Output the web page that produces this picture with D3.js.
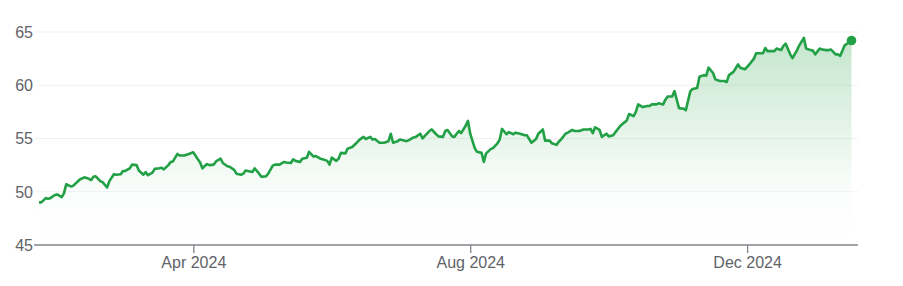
<html>
  <head>
    <script src="https://d3js.org/d3.v7.min.js"></script>
    <style>
      body {margin:0; background:white;}
      text {font-family: "Liberation Sans", Arial, sans-serif;}
    </style>
  </head>
  <body>
    <div id="chart"></div>
    <script>
      var dates = [
        "2024-01-24","2024-01-25","2024-01-27","2024-01-28","2024-01-29","2024-01-31","2024-02-01","2024-02-03","2024-02-04","2024-02-05",
        "2024-02-07","2024-02-08","2024-02-11","2024-02-13","2024-02-14","2024-02-16","2024-02-17","2024-02-18","2024-02-20","2024-02-21",
        "2024-02-23","2024-02-24","2024-02-26","2024-02-27","2024-02-29","2024-03-01","2024-03-02","2024-03-04","2024-03-05","2024-03-07",
        "2024-03-08","2024-03-10","2024-03-11","2024-03-12","2024-03-14","2024-03-15","2024-03-17","2024-03-18","2024-03-19","2024-03-21",
        "2024-03-22","2024-03-23","2024-03-25","2024-03-26","2024-03-28","2024-03-30","2024-04-01","2024-04-03","2024-04-04","2024-04-05",
        "2024-04-07","2024-04-08","2024-04-10","2024-04-11","2024-04-13","2024-04-14","2024-04-16","2024-04-17","2024-04-19","2024-04-20",
        "2024-04-22","2024-04-23","2024-04-24","2024-04-26","2024-04-27","2024-04-28","2024-04-30","2024-05-01","2024-05-03","2024-05-04",
        "2024-05-06","2024-05-07","2024-05-09","2024-05-11","2024-05-12","2024-05-14","2024-05-15","2024-05-16","2024-05-18","2024-05-19",
        "2024-05-21","2024-05-22","2024-05-24","2024-05-25","2024-05-27","2024-05-28","2024-05-30","2024-05-31","2024-06-01","2024-06-03",
        "2024-06-04","2024-06-05","2024-06-07","2024-06-08","2024-06-10","2024-06-12","2024-06-13","2024-06-15","2024-06-16","2024-06-18",
        "2024-06-19","2024-06-20","2024-06-22","2024-06-24","2024-06-26","2024-06-27","2024-06-28","2024-06-30","2024-07-01","2024-07-02",
        "2024-07-04","2024-07-05","2024-07-07","2024-07-08","2024-07-10","2024-07-11","2024-07-12","2024-07-14","2024-07-15","2024-07-17",
        "2024-07-18","2024-07-20","2024-07-21","2024-07-22","2024-07-24","2024-07-25","2024-07-27","2024-07-28","2024-07-30","2024-07-31",
        "2024-08-01","2024-08-03","2024-08-04","2024-08-06","2024-08-07","2024-08-08","2024-08-10","2024-08-11","2024-08-13","2024-08-14",
        "2024-08-15","2024-08-17","2024-08-18","2024-08-20","2024-08-21","2024-08-23","2024-08-25","2024-08-26","2024-08-28","2024-08-30",
        "2024-08-31","2024-09-02","2024-09-03","2024-09-05","2024-09-06","2024-09-08","2024-09-09","2024-09-10","2024-09-12","2024-09-13",
        "2024-09-15","2024-09-16","2024-09-18","2024-09-20","2024-09-22","2024-09-23","2024-09-24","2024-09-25","2024-09-27","2024-09-28",
        "2024-09-30","2024-10-01","2024-10-03","2024-10-04","2024-10-06","2024-10-07","2024-10-09","2024-10-10","2024-10-12","2024-10-13",
        "2024-10-14","2024-10-16","2024-10-18","2024-10-19","2024-10-20","2024-10-22","2024-10-23","2024-10-25","2024-10-26","2024-10-27",
        "2024-10-29","2024-10-30","2024-10-31","2024-11-01","2024-11-03","2024-11-04","2024-11-06","2024-11-07","2024-11-09","2024-11-10",
        "2024-11-12","2024-11-13","2024-11-14","2024-11-16","2024-11-17","2024-11-19","2024-11-21","2024-11-22","2024-11-23","2024-11-25",
        "2024-11-27","2024-11-28","2024-11-30","2024-12-02","2024-12-04","2024-12-05","2024-12-06","2024-12-08","2024-12-09","2024-12-10",
        "2024-12-12","2024-12-13","2024-12-14","2024-12-16","2024-12-17","2024-12-18","2024-12-20","2024-12-21","2024-12-23","2024-12-24",
        "2024-12-26","2024-12-27","2024-12-29","2024-12-30","2024-12-31","2025-01-02","2025-01-03","2025-01-05","2025-01-06","2025-01-07",
        "2025-01-09","2025-01-10","2025-01-11","2025-01-13","2025-01-14","2025-01-16"
      ];
      var prices = [
        49.0,49.0,49.4,49.35,49.4,49.7,49.75,49.5,49.85,50.7,
        50.5,50.55,51.15,51.35,51.3,51.1,51.4,51.45,51.0,50.9,
        50.4,51.0,51.65,51.6,51.65,51.95,51.95,52.2,52.55,52.5,
        52.0,51.6,51.85,51.55,51.8,52.15,52.2,52.25,52.1,52.5,
        52.8,52.85,53.55,53.4,53.4,53.55,53.7,53.05,52.75,52.2,
        52.6,52.5,52.55,52.85,53.1,52.7,52.4,52.35,52.05,51.7,
        51.6,51.7,52.0,51.9,51.85,52.2,51.7,51.4,51.45,51.7,
        52.45,52.55,52.55,52.8,52.75,52.7,53.05,52.9,52.8,53.1,
        53.2,53.75,53.3,53.35,53.1,53.05,52.9,52.55,53.2,52.9,
        53.1,53.65,53.6,54.05,54.2,54.6,54.85,55.15,54.95,55.15,
        54.9,54.95,54.6,54.6,54.75,55.45,54.6,54.75,54.9,54.85,
        54.75,54.85,55.1,55.15,55.45,55.0,55.25,55.7,55.85,55.4,
        55.2,55.15,55.7,55.8,55.2,55.15,55.7,55.5,56.2,56.65,
        55.45,54.1,53.75,53.65,52.8,53.6,54.0,54.1,54.55,54.9,
        55.9,55.4,55.6,55.4,55.55,55.45,55.3,55.3,54.6,54.95,
        55.45,55.85,54.8,54.8,54.55,54.4,54.7,54.9,55.45,55.55,
        55.8,55.7,55.7,55.85,55.85,55.9,55.5,56.05,55.8,55.15,
        55.45,55.2,55.3,55.6,56.15,56.35,56.7,57.3,57.1,57.5,
        58.2,57.95,58.05,58.05,58.2,58.2,58.3,58.2,58.65,58.95,
        58.95,59.45,58.65,57.85,57.8,57.65,59.45,59.65,59.75,60.8,
        60.95,60.9,61.65,61.15,60.55,60.4,60.4,60.3,60.95,61.25,
        61.95,61.65,61.5,61.95,62.5,63.0,63.0,63.0,63.5,63.2,
        63.2,63.2,63.45,63.3,63.7,63.9,62.9,62.55,63.3,63.75,
        64.45,63.45,63.3,63.25,62.9,63.45,63.35,63.3,63.3,63.35,
        62.9,62.9,62.75,63.75,63.9,64.2
      ];
      var yTicks = [45, 50, 55, 60, 65];
      var xTicks = ["2024-04-01", "2024-08-01", "2024-12-01"];

      var width = 903, height = 286;
      var parse = d3.timeParse("%Y-%m-%d");
      var data = dates.map(function(d, i){ return {date: parse(d), value: prices[i]}; });

      var svg = d3.select("#chart")
        .append("svg")
          .attr("width", width)
          .attr("height", height);

      var x = d3.scaleTime()
        .domain(d3.extent(data, function(d){ return d.date; }))
        .range([39, 851.5]);
      var y = d3.scaleLinear()
        .domain([45, 65])
        .range([245, 32]);

      var defs = svg.append("defs");
      var grad = defs.append("linearGradient")
        .attr("id", "areaGrad")
        .attr("gradientUnits", "userSpaceOnUse")
        .attr("x1", 0).attr("x2", 0)
        .attr("y1", y(65)).attr("y2", y(45));
      grad.append("stop").attr("offset", "0%").attr("stop-color", "#34a853").attr("stop-opacity", 0.3);
      grad.append("stop").attr("offset", "75%").attr("stop-color", "#34a853").attr("stop-opacity", 0.02);
      grad.append("stop").attr("offset", "100%").attr("stop-color", "#34a853").attr("stop-opacity", 0);

      // grid
      svg.append("g")
        .selectAll("line")
        .data(yTicks.slice(1))
        .enter()
        .append("line")
          .attr("x1", 35).attr("x2", 858)
          .attr("y1", function(d){ return y(d); })
          .attr("y2", function(d){ return y(d); })
          .attr("stroke", "#f1f1f1")
          .attr("stroke-width", 1);

      // y labels
      svg.append("g")
        .selectAll("text")
        .data(yTicks)
        .enter()
        .append("text")
          .attr("x", 33)
          .attr("y", function(d){ return y(d); })
          .attr("dy", "0.36em")
          .attr("text-anchor", "end")
          .attr("fill", "#5f6368")
          .style("font-size", "16px")
          .text(function(d){ return d; });

      // area + line
      svg.append("path")
        .datum(data)
        .attr("fill", "url(#areaGrad)")
        .attr("d", d3.area()
          .x(function(d){ return x(d.date); })
          .y0(y(45))
          .y1(function(d){ return y(d.value); }));

      svg.append("path")
        .datum(data)
        .attr("fill", "none")
        .attr("stroke", "#22a045")
        .attr("stroke-width", 2.6)
        .attr("stroke-linejoin", "round")
        .attr("d", d3.line()
          .x(function(d){ return x(d.date); })
          .y(function(d){ return y(d.value); }));

      // x axis
      var xAxis = d3.axisBottom(x)
        .tickValues(xTicks.map(parse))
        .tickSize(8)
        .tickSizeOuter(0)
        .tickPadding(4)
        .tickFormat(d3.timeFormat("%b %Y"));
      var gx = svg.append("g")
        .attr("transform", "translate(0," + y(45) + ")")
        .call(xAxis);
      gx.select(".domain").remove();
      gx.insert("line", ":first-child")
        .attr("x1", 34).attr("x2", 858)
        .attr("stroke", "#80868b").attr("stroke-width", 1.3);
      gx.selectAll(".tick line").attr("stroke", "#80868b").attr("stroke-width", 1.3);
      gx.selectAll(".tick text")
        .attr("fill", "#5f6368")
        .style("font-size", "16px")
        .style("font-family", "'Liberation Sans', Arial, sans-serif");

      var last = data[data.length - 1];
      svg.append("circle")
        .attr("cx", x(last.date))
        .attr("cy", y(last.value))
        .attr("r", 4.8)
        .attr("fill", "#22a045");
    </script>
  </body>
</html>
